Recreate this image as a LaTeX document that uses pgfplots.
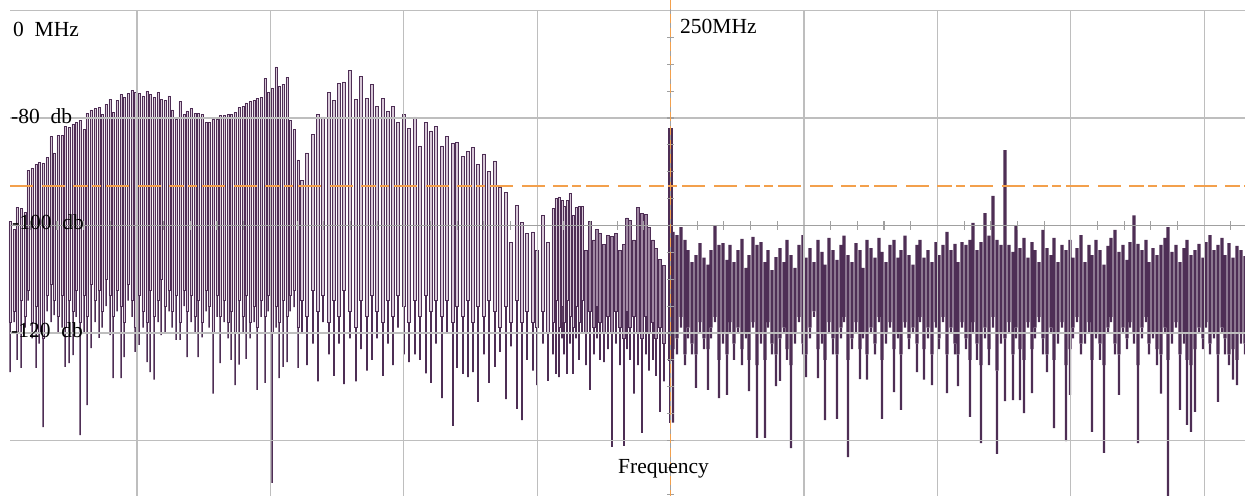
\documentclass[border=0pt]{standalone}
\usepackage{pgfplots}
\pgfplotsset{compat=1.18}
\usepackage{pgfplotstable}
\usepackage{fontspec}
\setmainfont{Liberation Serif}
\definecolor{darkp}{HTML}{4E2E55}
\definecolor{lightp}{HTML}{D8C9D8}
\definecolor{midp}{HTML}{A088A3}
\definecolor{gridg}{HTML}{BEBEBE}
\definecolor{axg}{HTML}{A0A0A0}
\definecolor{orng}{HTML}{F3A04C}

\pgfplotstableread{
x top mid bot
10 -99.3 -118 -127.3
14 -100.8 -116 -118
17 -96.6 -120 -125.0
21 -96.8 -114 -126.5
25 -97.5 -117 -119
28 -89.7 -112 -114
32 -89.3 -118 -121
36 -88.7 -115 -126.5
39 -88.2 -120 -122
43 -88.4 -121 -137.5
47 -87.4 -113 -116
51 -83.5 -111 -118
54 -86.5 -114 -116.7
58 -83.2 -117 -120
62 -83.2 -113 -119
65 -81.5 -119 -126.3
69 -81.7 -114 -125.6
73 -81.1 -116 -124.1
76 -80.9 -112 -117
80 -80.4 -118 -139.0
84 -82.2 -113 -120
87 -79.1 -117 -133.4
91 -78.5 -111 -122.8
95 -78.3 -114 -118
99 -78.1 -112 -120.9
102 -79.4 -116 -119
106 -77.4 -110 -115
110 -76.5 -113 -120.4
113 -78.9 -117 -128.4
117 -76.7 -112 -116
121 -75.7 -115 -128.4
124 -76.1 -118 -124.5
128 -75.5 -111 -114
132 -74.8 -114 -117
135 -75.2 -119 -123.5
139 -75.5 -113 -122.2
143 -75.9 -116 -119
147 -75.0 -118 -125.4
150 -75.7 -112 -127.3
154 -76.1 -117 -128.7
158 -75.3 -114 -118
161 -76.5 -110 -120.4
165 -76.8 -115 -120.0
169 -75.9 -112 -116
172 -78.5 -116 -119
176 -80.2 -113 -121.3
180 -77.0 -118 -121.3
184 -79.4 -112 -115
187 -78.7 -116 -124.5
191 -78.3 -113 -118
195 -79.1 -117 -120
198 -79.1 -114 -124.5
202 -79.3 -118 -120.8
206 -80.8 -112 -116
209 -80.8 -115 -119
213 -80.2 -120 -131.3
217 -80.2 -113 -117
220 -79.6 -117 -125.6
224 -79.6 -114 -118
228 -79.4 -118 -121
231 -79.4 -116 -125.0
235 -78.9 -120 -129.7
239 -78.1 -114 -125.9
243 -77.9 -117 -120
246 -77.2 -113 -124.8
250 -77.0 -118 -121
254 -76.7 -115 -118
257 -76.3 -119 -130.6
261 -76.1 -114 -117
265 -72.6 -117 -129.3
268 -75.2 -113 -116
272 -74.4 -120 -147.9
276 -70.5 -115 -119
279 -74.1 -118 -128.4
283 -73.7 -114 -126.3
287 -72.4 -117 -125.4
290 -80.4 -113 -116
294 -82.2 -112 -115.2
298 -87.8 -119 -126.5
}\dataA

\pgfplotstableread{
x top mid bot
302 -91.7 -114 -120
307 -86.5 -117 -126
313 -83.0 -112 -122
318 -79.3 -116 -129
323 -79.8 -113 -118
329 -75.2 -118 -124
334 -76.7 -114 -128
339 -73.5 -117 -122
344 -73.3 -112 -129.5
350 -71.1 -116 -121
356 -76.5 -119 -129
361 -72.2 -114 -123
367 -76.3 -117 -127
372 -73.7 -113 -125
377 -77.8 -116 -121
383 -76.3 -118 -128
388 -78.7 -114 -122
393 -77.8 -117 -126
398 -80.9 -113 -119
404 -79.3 -115 -124
409 -81.9 -118 -125.4
415 -79.8 -114 -124
420 -85.2 -117 -125
426 -80.9 -113 -127.5
431 -82.4 -116 -129.3
436 -81.5 -114 -122
442 -85.2 -117 -132.1
447 -83.5 -114 -120
453 -84.8 -118 -137.3
457 -84.5 -115 -126.5
463 -87.1 -117 -127.6
468 -86.3 -114 -128.2
473 -85.4 -118 -127.3
478 -88.7 -115 -132.8
484 -86.7 -117 -124
489 -89.9 -114 -129.3
495 -88.0 -116 -126.3
500 -93.0 -119 -123.5
506 -93.9 -115 -132.3
511 -103.1 -118 -122.5
517 -96.2 -114 -134.1
522 -99.5 -118 -136.2
527 -101.4 -116 -125
533 -101.2 -118 -127
537 -104.6 -119 -129.7
543 -98.2 -116 -122
548 -103.1 -120 -128.9
}\dataB

\pgfplotstableread{
x top mid bot
553 -96.8 -118 -124
556 -94.9 -114 -127.6
559 -94.7 -119 -128.2
562 -95.3 -115 -121
564 -96.4 -118 -124
567 -95.3 -114 -127.6
570 -94.0 -117 -122
573 -98.1 -119 -127.6
576 -96.6 -115 -121
579 -96.4 -118 -125
582 -96.4 -114 -120
}\dataC

\pgfplotstableread{
x top mid bot
586 -104.6 -120 -126
590 -99.2 -116 -130.6
594 -102.7 -119 -124
597 -100.7 -115 -121
600 -101.4 -118 -125
604 -103.6 -120 -125.4
608 -101.8 -117 -123
612 -102.0 -120 -141.2
616 -101.4 -116 -122
620 -104.6 -119 -126
624 -103.6 -121 -141.0
627 -98.6 -116 -123
630 -99.0 -119 -125
634 -102.7 -117 -131.3
638 -96.6 -120 -126
642 -97.7 -121 -138.6
646 -97.9 -117 -124
649 -100.3 -120 -127
653 -102.7 -118 -125
656 -104.2 -121 -128
660 -106.4 -119 -134.7
664 -107.4 -122 -129
}\dataD

\pgfplotstableread{
x top mid bot
670 -81.9 -125 -136.7
}\dataS

\pgfplotstableread{
x top mid bot
673 -101.2 -123 -136.7
677 -101.8 -121 -124
681 -100.3 -117 -119
685 -102.7 -124 -126
688 -104.6 -119 -121
692 -106.8 -122 -124
696 -105.5 -124 -130.2
700 -103.3 -118 -120
704 -106.0 -121 -123
708 -107.3 -123 -130.6
711 -104.6 -119 -121
715 -100.1 -117 -118
719 -103.6 -125 -132.1
723 -103.3 -120 -122
727 -106.4 -124 -131.5
730 -103.6 -118 -120
734 -106.8 -122 -125
738 -104.6 -119 -120
742 -102.5 -123 -126
746 -107.9 -120 -121
749 -105.5 -125 -130.8
753 -102.1 -118 -119
757 -103.6 -126 -139.5
761 -103.1 -120 -122
765 -106.8 -125 -139.5
768 -104.6 -118 -119
772 -108.3 -122 -124
776 -105.9 -124 -129.9
780 -104.2 -121 -128.9
784 -106.8 -119 -120
787 -102.7 -123 -125
791 -105.5 -126 -141.4
795 -107.9 -120 -122
799 -103.6 -117 -118
803 -101.8 -122 -124
806 -106.0 -124 -128.2
810 -104.2 -119 -121
814 -106.8 -116 -117
818 -102.7 -123 -128.4
822 -104.9 -120 -122
825 -107.3 -125 -136.2
829 -102.3 -118 -120
833 -104.6 -121 -124
837 -106.4 -124 -136.0
841 -103.6 -119 -121
844 -101.9 -117 -118
848 -105.5 -125 -143.1
852 -106.8 -121 -123
856 -103.3 -118 -120
860 -104.6 -123 -128.6
863 -107.9 -120 -121
867 -102.7 -124 -128.7
871 -104.2 -119 -120
875 -106.0 -122 -124
879 -102.3 -117 -118
882 -104.9 -125 -136.0
886 -106.8 -120 -122
890 -103.6 -118 -119
894 -102.7 -123 -131.0
898 -106.0 -120 -121
901 -104.6 -124 -134.3
905 -101.9 -118 -119
909 -105.5 -121 -123
913 -107.3 -119 -120
917 -103.6 -122 -127.3
920 -102.7 -117 -118
924 -106.0 -123 -128.7
928 -104.6 -119 -121
932 -106.8 -124 -129.7
936 -103.1 -118 -119
939 -105.5 -121 -123
943 -103.6 -117 -118
947 -101.2 -124 -131.2
951 -104.6 -119 -120
955 -103.4 -122 -124
958 -106.8 -124 -129.9
962 -103.1 -118 -119
966 -103.6 -121 -123
970 -102.7 -125 -135.6
973 -99.5 -118 -120
977 -104.6 -122 -125
981 -103.1 -126 -140.5
985 -97.7 -119 -121
989 -101.9 -123 -126
993 -94.5 -117 -119
997 -102.7 -127 -142.5
1001 -103.6 -120 -122
1005 -86.0 -121 -132.7
1009 -103.6 -118 -120
1013 -104.9 -124 -132.5
1016 -100.1 -119 -121
1020 -104.2 -123 -132.5
1024 -102.3 -125 -134.9
1028 -106.0 -118 -119
1032 -103.1 -123 -131.2
1035 -104.6 -119 -121
1039 -106.8 -117 -118
1043 -100.8 -121 -124
1047 -104.2 -124 -127.3
1051 -105.5 -119 -120
1054 -102.3 -125 -137.7
1058 -106.8 -120 -122
1062 -103.6 -118 -119
1066 -104.6 -126 -140.1
1070 -102.7 -123 -131.5
1073 -106.0 -119 -121
1077 -104.2 -117 -118
1081 -101.8 -122 -124
1085 -106.8 -120 -122
1089 -103.6 -118 -120
1092 -105.5 -125 -138.4
1096 -102.7 -120 -121
1100 -104.6 -122 -125
1104 -107.3 -126 -142.3
1108 -103.8 -119 -120
1111 -102.3 -117 -118
1115 -100.8 -122 -124
1119 -104.9 -124 -131.5
1123 -103.6 -119 -120
1127 -106.4 -121 -123
1130 -103.1 -118 -119
1134 -98.1 -120 -122
1138 -103.4 -126 -140.5
1142 -104.6 -119 -121
1146 -102.7 -117 -118
1149 -106.8 -122 -124
1153 -104.2 -120 -121
1157 -105.5 -123 -126
1161 -103.6 -124 -131.3
1165 -102.3 -119 -120
1168 -100.3 -125 -151
1172 -104.9 -120 -122
1176 -103.6 -118 -119
1180 -106.8 -124 -134.3
1184 -104.2 -120 -122
1187 -102.7 -125 -137.1
1191 -105.5 -126 -138.4
1195 -104.6 -123 -134.7
1199 -103.4 -119 -120
1203 -106.0 -121 -123
1206 -103.1 -118 -119
1210 -101.8 -122 -124
1214 -104.6 -120 -121
1218 -103.6 -124 -132.8
1222 -102.3 -119 -120
1225 -105.5 -121 -124
1229 -103.3 -124 -126
1233 -106.0 -123 -128.7
1237 -103.8 -125 -129.7
1241 -104.6 -120 -122
1245 -105.7 -122 -124
}\dataR

\pgfplotsset{
  base/.style={width=1245bp,height=496bp,scale only axis,
    xmin=0,xmax=1245,ymin=-150.33,ymax=-58.05,enlargelimits=false,
    axis lines=none,ticks=none,ybar stacked},
  lightbar/.style={fill=lightp,draw=darkp,line width=0.75bp},
  tailbar/.style={fill=darkp,draw=none},
}

\begin{document}
\begin{tikzpicture}
% section A
\begin{axis}[base]
\addplot[draw=none,fill=none,bar width=2.2] table[x=x,y=top]{\dataA};
\addplot[lightbar,bar width=2.2] table[x=x,y expr=\thisrow{mid}-\thisrow{top}]{\dataA};
\addplot[tailbar,bar width=1.5] table[x=x,y expr=\thisrow{bot}-\thisrow{mid}]{\dataA};
\end{axis}
% section B
\begin{axis}[base]
\addplot[draw=none,fill=none,bar width=3.4] table[x=x,y=top]{\dataB};
\addplot[lightbar,bar width=3.4] table[x=x,y expr=\thisrow{mid}-\thisrow{top}]{\dataB};
\addplot[tailbar,bar width=1.8] table[x=x,y expr=\thisrow{bot}-\thisrow{mid}]{\dataB};
\end{axis}
% section C
\begin{axis}[base]
\addplot[draw=none,fill=none,bar width=2.2] table[x=x,y=top]{\dataC};
\addplot[lightbar,bar width=2.2] table[x=x,y expr=\thisrow{mid}-\thisrow{top}]{\dataC};
\addplot[tailbar,bar width=1.6] table[x=x,y expr=\thisrow{bot}-\thisrow{mid}]{\dataC};
\end{axis}
% section D (darker)
\begin{axis}[base]
\addplot[draw=none,fill=none,bar width=2.5] table[x=x,y=top]{\dataD};
\addplot[fill=midp,draw=darkp,line width=0.9bp,bar width=2.5] table[x=x,y expr=\thisrow{mid}-\thisrow{top}]{\dataD};
\addplot[tailbar,bar width=1.8] table[x=x,y expr=\thisrow{bot}-\thisrow{mid}]{\dataD};
\end{axis}
% spike at 250 MHz
\begin{axis}[base]
\addplot[draw=none,fill=none,bar width=3.6] table[x=x,y=top]{\dataS};
\addplot[fill=darkp,draw=darkp,line width=0.5bp,bar width=3.6] table[x=x,y expr=\thisrow{mid}-\thisrow{top}]{\dataS};
\addplot[tailbar,bar width=2.0] table[x=x,y expr=\thisrow{bot}-\thisrow{mid}]{\dataS};
\end{axis}
% right half
\begin{axis}[base]
\addplot[draw=none,fill=none,bar width=3.2] table[x=x,y=top]{\dataR};
\addplot[fill=darkp,draw=none,bar width=3.2] table[x=x,y expr=\thisrow{mid}-\thisrow{top}]{\dataR};
\addplot[tailbar,bar width=2.2] table[x=x,y expr=\thisrow{bot}-\thisrow{mid}]{\dataR};
\end{axis}
% grid, reference lines, labels
\begin{axis}[width=1245bp,height=496bp,scale only axis,
    xmin=0,xmax=1245,ymin=-150.33,ymax=-58.05,enlargelimits=false,
    axis lines=none,ticks=none]
\draw[gridg,line width=1.3bp] (axis cs:10,-60) -- (axis cs:1245,-60);
\draw[gridg,line width=1.3bp] (axis cs:10,-80) -- (axis cs:1245,-80);
\draw[gridg,line width=1.3bp] (axis cs:10,-120) -- (axis cs:1245,-120);
\draw[gridg,line width=1.3bp] (axis cs:10,-140) -- (axis cs:1245,-140);
\draw[gridg,line width=1.3bp] (axis cs:137.0,-60) -- (axis cs:137.0,-151);
\draw[gridg,line width=1.3bp] (axis cs:270.4,-60) -- (axis cs:270.4,-151);
\draw[gridg,line width=1.3bp] (axis cs:403.8,-60) -- (axis cs:403.8,-151);
\draw[gridg,line width=1.3bp] (axis cs:537.2,-60) -- (axis cs:537.2,-151);
\draw[gridg,line width=1.3bp] (axis cs:804.0,-60) -- (axis cs:804.0,-151);
\draw[gridg,line width=1.3bp] (axis cs:937.4,-60) -- (axis cs:937.4,-151);
\draw[gridg,line width=1.3bp] (axis cs:1070.8,-60) -- (axis cs:1070.8,-151);
\draw[gridg,line width=1.3bp] (axis cs:1204.2,-60) -- (axis cs:1204.2,-151);
\draw[axg,line width=1.2bp] (axis cs:10,-100) -- (axis cs:1245,-100);
\draw[axg,line width=1.2bp] (axis cs:670.6,-58.05) -- (axis cs:670.6,-151);
\pgfplotsinvokeforeach{30.3,57.0,83.6,110.3,163.7,190.4,217.0,243.7,297.1,323.7,350.4,377.1,430.5,457.2,483.8,510.5,563.9,590.6,617.2,643.9,697.3,723.9,750.6,777.3,830.7,857.4,884.0,910.7,964.1,990.8,1017.4,1044.1,1097.5,1124.2,1150.8,1177.5,1230.9}{
  \draw[axg,line width=1.1bp] (axis cs:#1,-100.75) -- (axis cs:#1,-99.25);
}
\pgfplotsinvokeforeach{-65,-70,-75,-80,-85,-90,-95,-105,-110,-115,-120,-125,-130,-135,-140,-145,-150}{
  \draw[axg,line width=1.1bp] (axis cs:667,#1) -- (axis cs:674,#1);
}
\draw[orng,line width=1.6bp,dash pattern=on 23bp off 9bp on 23bp off 8bp on 15bp off 4bp on 9bp off 5bp]
  (axis cs:10,-92.65) -- (axis cs:1245,-92.65);
\draw[orng,line width=1.6bp,dash pattern=on 9bp off 5bp]
  (axis cs:670.6,-58.05) -- (axis cs:670.6,-150.33);
\node[anchor=base west,inner sep=0pt,font=\fontsize{21.5bp}{24bp}\selectfont] at (axis cs:13,-64.75) {0\ \ MHz};
\node[anchor=base west,inner sep=0pt,font=\fontsize{21.5bp}{24bp}\selectfont] at (axis cs:11,-81.1) {-80\ \ db};
\node[anchor=base west,inner sep=0pt,font=\fontsize{21.5bp}{24bp}\selectfont] at (axis cs:12,-100.8) {-100\ \ db};
\node[anchor=base west,inner sep=0pt,font=\fontsize{21.5bp}{24bp}\selectfont] at (axis cs:11,-120.8) {-120\ \ db};
\node[anchor=base west,inner sep=0pt,font=\fontsize{21.5bp}{24bp}\selectfont] at (axis cs:680,-64.2) {250MHz};
\node[anchor=base west,inner sep=0pt,font=\fontsize{21.5bp}{24bp}\selectfont] at (axis cs:618,-146.2) {Frequency};
\end{axis}
\pgfresetboundingbox
\useasboundingbox (0,0) rectangle (1245bp,496bp);
\end{tikzpicture}
\end{document}
